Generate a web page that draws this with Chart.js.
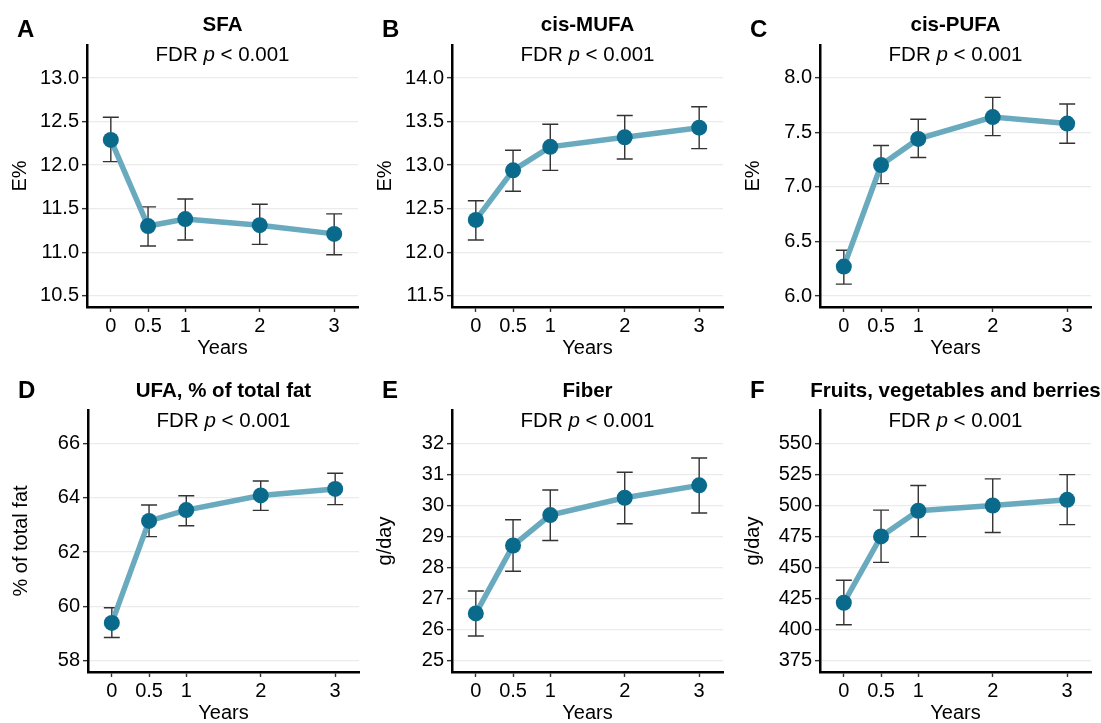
<!DOCTYPE html>
<html>
<head>
<meta charset="utf-8">
<script src="https://cdn.jsdelivr.net/npm/chart.js@4"></script>
<style>
  body { margin: 0; background: #fff; width: 1101px; height: 723px; overflow: hidden; position: relative; }
  .panel { position: absolute; width: 367px; height: 360px; }
</style>
</head>
<body>

<script>
// follow-up time points (years)
const years = [0, 0.5, 1, 2, 3];
const yearTicks = [0, 0.5, 1, 2, 3];

// A: SFA
const sfaMean = [12.29, 11.30, 11.38, 11.31, 11.21];
const sfaLow  = [12.04, 11.07, 11.14, 11.09, 10.97];
const sfaHigh = [12.55, 11.52, 11.61, 11.55, 11.44];
const sfaTicks = [10.5, 11.0, 11.5, 12.0, 12.5, 13.0];

// B: cis-MUFA
const mufaMean = [12.37, 12.94, 13.21, 13.32, 13.43];
const mufaLow  = [12.14, 12.70, 12.94, 13.07, 13.19];
const mufaHigh = [12.59, 13.17, 13.47, 13.57, 13.67];
const mufaTicks = [11.5, 12.0, 12.5, 13.0, 13.5, 14.0];

// C: cis-PUFA
const pufaMean = [6.27, 7.20, 7.44, 7.64, 7.58];
const pufaLow  = [6.11, 7.03, 7.27, 7.47, 7.40];
const pufaHigh = [6.42, 7.38, 7.62, 7.82, 7.76];
const pufaTicks = [6.0, 6.5, 7.0, 7.5, 8.0];

// D: UFA, % of total fat
const ufaMean = [59.39, 63.15, 63.55, 64.09, 64.33];
const ufaLow  = [58.85, 62.57, 62.97, 63.54, 63.75];
const ufaHigh = [59.95, 63.74, 64.08, 64.62, 64.91];
const ufaTicks = [58, 60, 62, 64, 66];

// E: Fiber
const fiberMean = [26.51, 28.70, 29.68, 30.24, 30.64];
const fiberLow  = [25.78, 27.87, 28.86, 29.40, 29.75];
const fiberHigh = [27.23, 29.53, 30.49, 31.06, 31.52];
const fiberTicks = [25, 26, 27, 28, 29, 30, 31, 32];

// F: Fruits, vegetables and berries
const fvbMean = [421.4, 474.9, 495.6, 499.8, 504.4];
const fvbLow  = [403.7, 454.0, 474.7, 478.1, 484.4];
const fvbHigh = [439.6, 496.1, 515.9, 521.3, 524.7];
const fvbTicks = [375, 400, 425, 450, 475, 500, 525, 550];

const FONT = 'Arial, "Liberation Sans", sans-serif';
Chart.defaults.font.family = FONT;
Chart.defaults.color = '#000';

const panels = [
  { id: 'A', title: 'SFA', unit: 'E%', mean: sfaMean, low: sfaLow, high: sfaHigh, ticks: sfaTicks, min: 10.37, max: 13.38, dec: 1, left: 0, top: 0 },
  { id: 'B', title: 'cis-MUFA', unit: 'E%', mean: mufaMean, low: mufaLow, high: mufaHigh, ticks: mufaTicks, min: 11.37, max: 14.38, dec: 1, left: 365, top: 0 },
  { id: 'C', title: 'cis-PUFA', unit: 'E%', mean: pufaMean, low: pufaLow, high: pufaHigh, ticks: pufaTicks, min: 5.90, max: 8.30, dec: 1, left: 733, top: 0 },
  { id: 'D', title: 'UFA, % of total fat', unit: '% of total fat', mean: ufaMean, low: ufaLow, high: ufaHigh, ticks: ufaTicks, min: 57.58, max: 67.24, dec: 0, left: 1, top: 365 },
  { id: 'E', title: 'Fiber', unit: 'g/day', mean: fiberMean, low: fiberLow, high: fiberHigh, ticks: fiberTicks, min: 24.62, max: 33.07, dec: 0, left: 365, top: 365 },
  { id: 'F', title: 'Fruits, vegetables and berries', unit: 'g/day', mean: fvbMean, low: fvbLow, high: fvbHigh, ticks: fvbTicks, min: 365.6, max: 576.8, dec: 0, left: 733, top: 365 }
];

// error bars drawn under the line and points
const errorBars = {
  id: 'errorBars',
  beforeDatasetsDraw(chart, args, opts) {
    const {ctx, scales: {x, y}} = chart;
    ctx.save();
    ctx.strokeStyle = '#333';
    ctx.lineWidth = 1.4;
    opts.low.forEach((lo, i) => {
      const px = x.getPixelForValue(years[i]);
      const y1 = y.getPixelForValue(lo);
      const y2 = y.getPixelForValue(opts.high[i]);
      ctx.beginPath();
      ctx.moveTo(px, y1); ctx.lineTo(px, y2);
      ctx.moveTo(px - 8, y1); ctx.lineTo(px + 8, y1);
      ctx.moveTo(px - 8, y2); ctx.lineTo(px + 8, y2);
      ctx.stroke();
    });
    ctx.restore();
  }
};

// panel letter, bold title and FDR note
const panelText = {
  id: 'panelText',
  afterDraw(chart, args, opts) {
    const {ctx, chartArea} = chart;
    const cx = (chartArea.left + chartArea.right) / 2;
    ctx.save();
    ctx.fillStyle = '#000';
    ctx.textBaseline = 'alphabetic';
    ctx.font = 'bold 24px ' + FONT;
    ctx.textAlign = 'left';
    ctx.fillText(opts.letter, 17, opts.row === 0 ? 37 : 33);

    ctx.font = 'bold 20.5px ' + FONT;
    ctx.textAlign = 'center';
    ctx.fillText(opts.title, cx, opts.row === 0 ? 31 : 32);

    // FDR p < 0.001 with italic p
    const parts = [['FDR ', '20.5px '], ['p', 'italic 20.5px '], [' < 0.001', '20.5px ']];
    let w = 0;
    parts.forEach(p => { ctx.font = p[1] + FONT; w += ctx.measureText(p[0]).width; });
    let xx = cx - w / 2;
    ctx.textAlign = 'left';
    const by = opts.row === 0 ? 61 : 62;
    parts.forEach(p => {
      ctx.font = p[1] + FONT;
      ctx.fillText(p[0], xx, by);
      xx += ctx.measureText(p[0]).width;
    });
    ctx.restore();
  }
};

panels.forEach((p) => {
  const div = document.createElement('div');
  div.className = 'panel';
  div.style.left = p.left + 'px';
  div.style.top = p.top + 'px';
  const canvas = document.createElement('canvas');
  canvas.width = 367;
  canvas.height = 360;
  div.appendChild(canvas);
  document.body.appendChild(div);

  const points = years.map((yr, i) => ({ x: yr, y: p.mean[i] }));

  new Chart(canvas.getContext('2d'), {
    type: 'line',
    data: {
      datasets: [{
        data: points,
        borderColor: '#6aaabf',
        borderWidth: 5.5,
        pointRadius: 8,
        pointBackgroundColor: '#0a6a8b',
        pointBorderWidth: 0,
        tension: 0
      }]
    },
    options: {
      responsive: false,
      animation: false,
      devicePixelRatio: 1,
      layout: { padding: { top: 45, right: 9, left: 0, bottom: 0 } },
      plugins: {
        legend: { display: false },
        tooltip: { enabled: false },
        errorBars: { low: p.low, high: p.high },
        panelText: { letter: p.id, title: p.title, row: p.top === 0 ? 0 : 1 }
      },
      scales: {
        x: {
          type: 'linear',
          min: -0.32,
          max: 3.32,
          afterBuildTicks: (s) => { s.ticks = yearTicks.map(v => ({ value: v })); },
          afterFit: (s) => { s.height = 53; },
          ticks: { font: { size: 20 }, color: '#000', padding: 2, maxRotation: 0, autoSkip: false, callback: (v) => String(v) },
          grid: { drawOnChartArea: false, drawTicks: true, tickLength: 5, tickColor: '#333', tickWidth: 1.4 },
          border: { display: true, color: '#000', width: 2.5 },
          title: { display: true, text: 'Years', font: { size: 20 }, color: '#000', padding: { top: 0, bottom: 0 } }
        },
        y: {
          min: p.min,
          max: p.max,
          afterBuildTicks: (s) => { s.ticks = p.ticks.map(v => ({ value: v })); },
          afterFit: (s) => { s.width = 87; },
          ticks: { font: { size: 20 }, color: '#000', padding: 3, callback: (v) => Number(v).toFixed(p.dec) },
          grid: { color: '#ebebeb', lineWidth: 1.3, drawTicks: true, tickLength: 5, tickColor: '#333', tickWidth: 1.4 },
          border: { display: true, color: '#000', width: 2.5 },
          title: { display: true, text: p.unit, font: { size: 20 }, color: '#000', padding: { top: 8, bottom: 0 } }
        }
      }
    },
    plugins: [errorBars, panelText]
  });
});
</script>
</body>
</html>
